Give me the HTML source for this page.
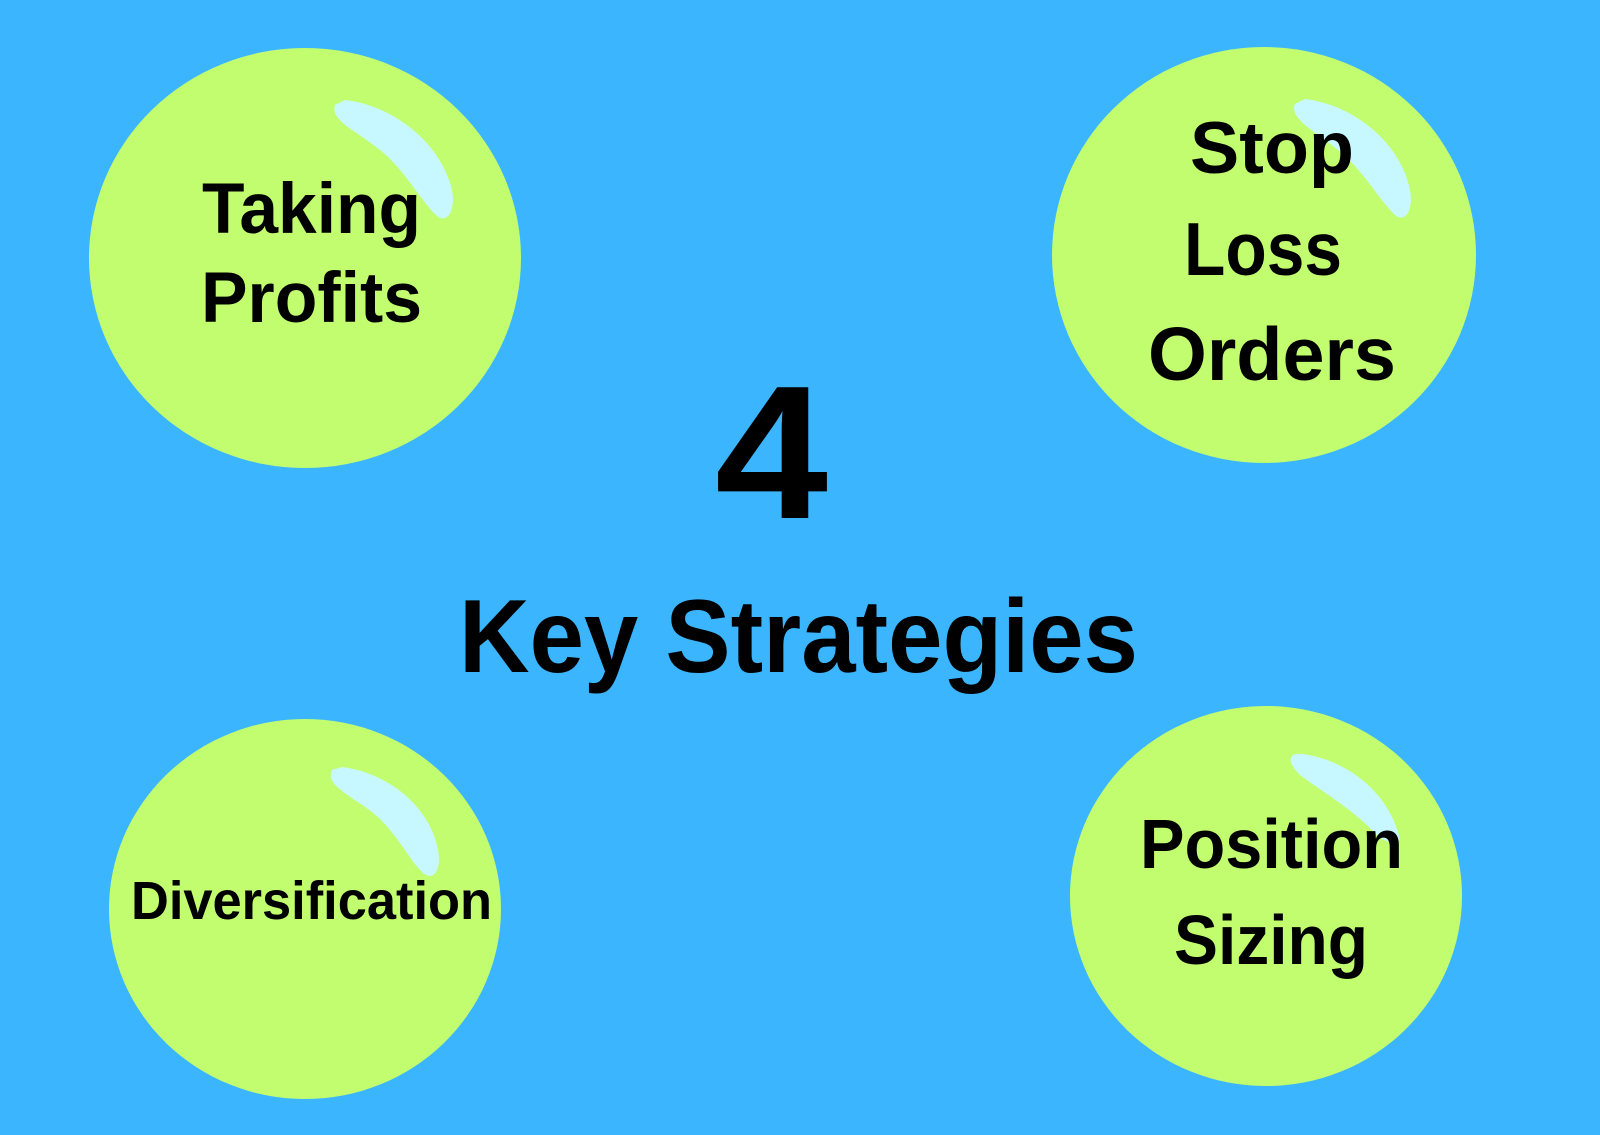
<!DOCTYPE html>
<html><head><meta charset="utf-8"><style>
html,body{margin:0;padding:0;background:#3bb6fe;}
svg{display:block}
text{font-family:"Liberation Sans",sans-serif;font-weight:bold;fill:#000}
</style></head><body>
<svg width="1600" height="1135" viewBox="0 0 1600 1135" xmlns="http://www.w3.org/2000/svg">
<rect width="1600" height="1135" fill="#3bb6fe"/>
<g fill="#c2fd6f">
<ellipse cx="305" cy="258" rx="216" ry="210"/>
<ellipse cx="1264" cy="255" rx="212" ry="208"/>
<ellipse cx="305" cy="909" rx="196" ry="190"/>
<ellipse cx="1266" cy="896" rx="196" ry="190"/>
</g>
<g fill="#c8f8ff">
<path d="M345 100 C390 105 440 140 452 190 C456 212 446 225 436 215 C420 200 405 170 380 150 C355 130 330 120 335 105 Z"/>
<path d="M1305 99 C1350 104 1400 140 1410 190 C1414 212 1404 224 1394 214 C1378 198 1363 170 1338 150 C1313 130 1289 118 1295 104 Z"/>
<path d="M342 767 C385 772 430 805 438 850 C442 872 432 882 422 872 C408 858 395 830 372 812 C350 795 325 785 332 770 Z"/>
<path d="M1302 754 C1345 759 1390 792 1400 840 C1390 845 1380 840 1370 828 C1350 808 1320 790 1300 775 C1285 760 1290 752 1302 754 Z"/>
</g>
<text x="715" y="518" font-size="190" textLength="113" lengthAdjust="spacingAndGlyphs">4</text>
<text x="459" y="672" font-size="104" textLength="679" lengthAdjust="spacingAndGlyphs">Key Strategies</text>
<text x="202" y="233" font-size="71" textLength="219" lengthAdjust="spacingAndGlyphs">Taking</text>
<text x="201" y="322" font-size="71" textLength="221" lengthAdjust="spacingAndGlyphs">Profits</text>
<text x="1190" y="173" font-size="73" textLength="164" lengthAdjust="spacingAndGlyphs">Stop</text>
<text x="1184" y="275" font-size="75" textLength="158" lengthAdjust="spacingAndGlyphs">Loss</text>
<text x="1148" y="380" font-size="75" textLength="248" lengthAdjust="spacingAndGlyphs">Orders</text>
<text x="131" y="919" font-size="54" textLength="361" lengthAdjust="spacingAndGlyphs">Diversification</text>
<text x="1140" y="868" font-size="70" textLength="263" lengthAdjust="spacingAndGlyphs">Position</text>
<text x="1174" y="964" font-size="70" textLength="194" lengthAdjust="spacingAndGlyphs">Sizing</text>
</svg>
</body></html>
